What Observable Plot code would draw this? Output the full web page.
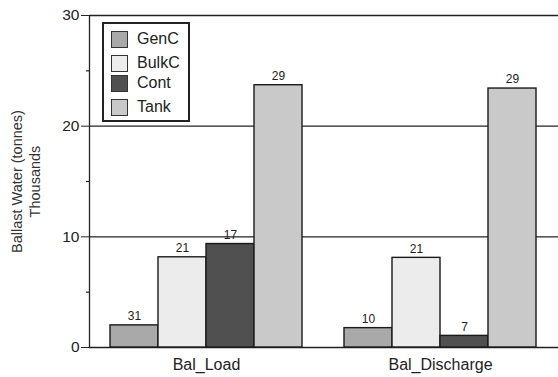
<!DOCTYPE html>
<html>
<head>
<meta charset="utf-8">
<script src="https://cdn.jsdelivr.net/npm/d3@7"></script>
<script src="https://cdn.jsdelivr.net/npm/@observablehq/plot@0.6"></script>
<style>
  html, body { margin: 0; padding: 0; background: #fff; }
  #wrap { position: relative; width: 558px; height: 377px; font-family: "Liberation Sans", Arial, sans-serif; }
  #wrap svg { position: absolute; left: 0; top: 0; background: transparent; }
  #legend { position: absolute; left: 102px; top: 22px; width: 84px; height: 96px; border: 2px solid #222; background: #fff; box-sizing: content-box; }
  .li { position: absolute; left: 7px; height: 18px; display: flex; align-items: center; font-size: 16px; color: #222; }
  .sw { width: 15px; height: 15px; border: 1px solid #333; margin-right: 9px; }
</style>
</head>
<body>
<div id="wrap"></div>
<script>
// ---- data ----
const categories = ["Bal_Load", "Bal_Discharge"];
const types = ["GenC", "BulkC", "Cont", "Tank"];
const loadValues = [2.0, 8.15, 9.35, 23.7];
const dischargeValues = [1.75, 8.1, 1.05, 23.4];
const loadLabels = ["31", "21", "17", "29"];
const dischargeLabels = ["10", "21", "7", "29"];
const yTicks = [0, 10, 20, 30];
const yMinorTicks = [5, 15, 25];
const colors = ["#a9a9a9", "#ececec", "#505050", "#c9c9c9"];

const rows = [];
types.forEach((t, i) => {
  rows.push({cat: categories[0], type: t, value: loadValues[i], label: loadLabels[i]});
});
types.forEach((t, i) => {
  rows.push({cat: categories[1], type: t, value: dischargeValues[i], label: dischargeLabels[i]});
});

const W = 558, H = 377;
const common = {width: W, height: H, marginLeft: 89, marginRight: 0, marginTop: 15, marginBottom: 30};
const yScale = {domain: [0, 30], nice: false};
const font = "Liberation Sans, Arial, sans-serif";

// background plot: grid, y axis
const bg = Plot.plot({
  ...common,
  style: {fontFamily: font, fontSize: "15.5px", color: "#222", background: "transparent"},
  x: {domain: [0, 1], axis: null},
  y: {...yScale, ticks: yTicks, tickSize: 8, tickPadding: 2, label: null, tickFormat: d => d},
  marks: [
    Plot.ruleY(yTicks, {stroke: "#222", strokeWidth: 1.3}),
    Plot.ruleY(yMinorTicks, {x1: 0, x2: 0, insetLeft: -3, stroke: "#222", strokeWidth: 1.2}),
    Plot.ruleX([0], {stroke: "#222", strokeWidth: 1.3}),
    Plot.text(["Ballast Water (tonnes)\nThousands"], {
      text: d => d, frameAnchor: "left", textAnchor: "middle", rotate: -90, dx: -64,
      fontSize: 14.5, fill: "#333", lineHeight: 1.25
    })
  ]
});

// bars plot (faceted)
const fg = Plot.plot({
  ...common,
  style: {fontFamily: font, fontSize: "16px", color: "#222", background: "transparent"},
  fx: {domain: categories, paddingInner: 0.17, paddingOuter: 0.083, label: null, tickSize: 0, tickPadding: 11},
  x: {domain: types, padding: 0, axis: null},
  y: {...yScale, axis: null},
  color: {domain: types, range: colors},
  marks: [
    Plot.barY(rows, {fx: "cat", x: "type", y: "value", fill: "type", stroke: "#1a1a1a", strokeWidth: 1.4}),
    Plot.text(rows, {fx: "cat", x: "type", y: "value", text: "label", dy: -9, fontSize: 12, fill: "#222"})
  ]
});

const wrap = document.getElementById("wrap");
wrap.appendChild(bg);
wrap.appendChild(fg);

// legend
const legend = document.createElement("div");
legend.id = "legend";
const tops = [6, 30, 50, 74];
types.forEach((t, i) => {
  const li = document.createElement("div");
  li.className = "li";
  li.style.top = tops[i] + "px";
  const sw = document.createElement("div");
  sw.className = "sw";
  sw.style.background = colors[i];
  li.appendChild(sw);
  const tx = document.createElement("span");
  tx.textContent = t;
  li.appendChild(tx);
  legend.appendChild(li);
});
wrap.appendChild(legend);
</script>
</body>
</html>
